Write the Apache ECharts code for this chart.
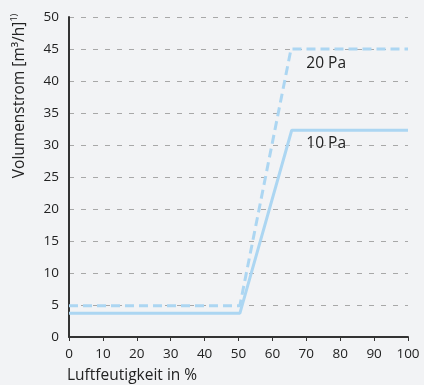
<!DOCTYPE html>
<html>
<head>
    <meta charset="utf-8">
    <script src="https://cdn.jsdelivr.net/npm/echarts@6/dist/echarts.min.js"></script>
</head>
<body style="margin:0; background:#f2f3f5">
<div id="main" style="position: absolute; left: 0; right: 0; bottom: 0; top: 0"></div>
<script type="text/javascript">
    // values
    var humidity10 = [0, 50.4, 65.7, 100];
    var flow10 = [3.7, 3.7, 32.3, 32.3];
    var humidity20 = [0, 50.4, 65.5, 100];
    var flow20 = [4.9, 4.9, 45, 45];
    var seriesNames = ['10 Pa', '20 Pa'];
    var labelAt = [[70, 30.3], [70, 42.8]];

    var fontFamily = '"Open Sans", "DejaVu Sans", sans-serif';
    var lineColor = '#acd6f2';

    function pairs(xs, ys) {
        return xs.map(function (x, i) { return [x, ys[i]]; });
    }

    var myChart = echarts.init(document.getElementById('main'));

    function pointLabel(text) {
        return {
            show: true,
            formatter: text,
            position: 'right',
            distance: 0,
            color: '#222',
            fontSize: 15.5,
            fontFamily: fontFamily
        };
    }

    option = {
        backgroundColor: '#f2f3f5',
        animation: false,
        grid: { left: 69, right: 16, top: 17, bottom: 48 },
        xAxis: {
            type: 'value',
            min: 0,
            max: 100,
            interval: 10,
            axisLine: { lineStyle: { color: '#333', width: 2 } },
            axisTick: { show: true, length: 4, lineStyle: { color: '#333' } },
            axisLabel: { color: '#222', fontSize: 13.5, fontFamily: fontFamily, margin: 10 },
            splitLine: { show: false }
        },
        yAxis: {
            type: 'value',
            min: 0,
            max: 50,
            interval: 5,
            axisLine: { show: true, lineStyle: { color: '#333', width: 2 } },
            axisTick: { show: false },
            axisLabel: { color: '#222', fontSize: 13.5, fontFamily: fontFamily, margin: 10 },
            splitLine: { show: true, lineStyle: { color: '#a8a8a8', type: [5, 7], width: 1 } }
        },
        graphic: [
            {
                type: 'text',
                x: 20,
                y: 96,
                rotation: Math.PI / 2,
                style: {
                    text: 'Volumenstrom [m³/h]{sup|1)}',
                    fill: '#222',
                    font: '15.5px ' + fontFamily,
                    align: 'center',
                    verticalAlign: 'middle',
                    rich: {
                        sup: { fontSize: 9, fill: '#222', fontFamily: fontFamily, verticalAlign: 'top', lineHeight: 20 }
                    }
                }
            },
            {
                type: 'text',
                left: 67,
                top: 368,
                style: {
                    text: 'Luftfeutigkeit in %',
                    fill: '#222',
                    font: '15.5px ' + fontFamily
                }
            }
        ],
        series: [
            {
                name: seriesNames[0],
                type: 'line',
                data: pairs(humidity10, flow10),
                symbol: 'none',
                lineStyle: { color: lineColor, width: 3 },
                markPoint: {
                    symbol: 'circle',
                    symbolSize: 0,
                    data: [{ coord: labelAt[0] }],
                    label: pointLabel(seriesNames[0])
                }
            },
            {
                name: seriesNames[1],
                type: 'line',
                data: pairs(humidity20, flow20),
                symbol: 'none',
                lineStyle: { color: lineColor, width: 3, type: [9, 5] },
                markPoint: {
                    symbol: 'circle',
                    symbolSize: 0,
                    data: [{ coord: labelAt[1] }],
                    label: pointLabel(seriesNames[1])
                }
            }
        ]
    };

    myChart.setOption(option);
</script>
</body>
</html>
